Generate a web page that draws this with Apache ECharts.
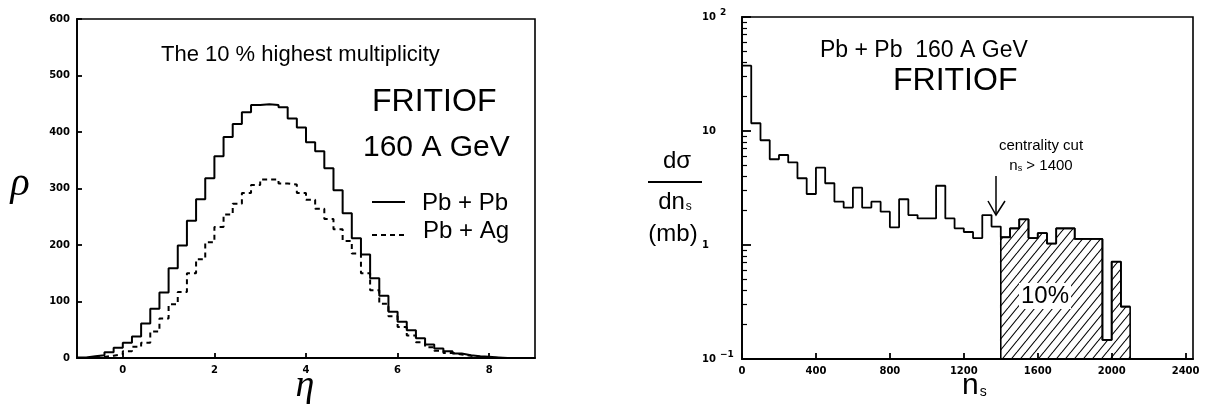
<!DOCTYPE html>
<html><head><meta charset="utf-8">
<script src="https://cdn.jsdelivr.net/npm/echarts@6/dist/echarts.min.js"></script>
<style>html,body{margin:0;padding:0;background:#fff}#c{width:1206px;height:405px}</style>
</head><body><div id="c"></div>
<script>
// ---------- Left panel: pseudorapidity density (bins of 0.2 in eta starting at -1) ----------
const etaFirstEdge = -1.0;
const etaBinWidth = 0.2;
const rhoPbPb = [1, 3, 5, 10, 18, 27, 38, 61, 87, 116, 159, 199, 243, 281, 318, 357, 391, 414, 435, 448,
  449, 448, 444, 424, 408, 382, 366, 336, 297, 256, 212, 183, 141, 110, 82, 64, 49, 35, 24, 17,
  12, 8, 5, 3, 2, 1, 0, 0, 0, 0];
const rhoPbAg = [0, 1, 2, 4, 7, 12, 20, 27, 47, 70, 95, 117, 150, 175, 205, 232, 254, 273, 292, 306,
  316, 316, 309, 307, 292, 280, 264, 246, 228, 207, 185, 150, 120, 96, 74, 55, 40, 28, 19, 13,
  9, 6, 4, 2, 1, 0, 0, 0, 0, 0];
const etaTicks = [0, 2, 4, 6, 8];

// ---------- Right panel: d sigma / d n_s (bins of 50 starting at 0) ----------
const nsFirstEdge = 0;
const nsBinWidth = 50;
const dsigma = [37.4, 11.7, 8.3, 5.65, 6.16, 5.3, 3.85, 2.8, 4.77, 3.48,
  2.40, 2.13, 3.18, 2.13, 2.40, 1.96, 1.43, 2.52, 1.83, 1.71,
  1.71, 3.31, 1.71, 1.40, 1.30, 1.15, 1.83, 1.45, 1.17, 1.40,
  1.68, 1.15, 1.27, 1.03, 1.40, 1.40, 1.13, 1.13, 1.13, 0.147,
  0.714, 0.288];
const nsCut = 1400;
const nsTicks = [0, 400, 800, 1200, 1600, 2000, 2400];
const logMin = 0.1, logMax = 100;
const logMinorTicks = [0.2,0.3,0.4,0.5,0.6,0.7,0.8,0.9,2,3,4,5,6,7,8,9,20,30,40,50,60,70,80,90];

function stepPoints(first, width, vals) {
  const pts = vals.map((v, i) => [first + i * width, v]);
  pts.push([first + vals.length * width, vals[vals.length - 1]]);
  return pts;
}

const cutIdx = Math.round((nsCut - nsFirstEdge) / nsBinWidth);
const nsEnd = nsFirstEdge + dsigma.length * nsBinWidth;
const hatchedPts = [[nsCut, logMin]].concat(
  stepPoints(nsCut, nsBinWidth, dsigma.slice(cutIdx)), [[nsEnd, logMin]]);

// hatch pattern
const tile = document.createElement('canvas');
tile.width = 9; tile.height = 11;
(function () {
  const g = tile.getContext('2d');
  g.strokeStyle = '#000'; g.lineWidth = 1.1;
  for (const dx of [-9, 0, 9]) { g.beginPath(); g.moveTo(dx, 11); g.lineTo(dx + 9, 0); g.stroke(); }
})();

const tickFont = { fontFamily: 'DejaVu Sans', fontWeight: 'bold', fontSize: 10, color: '#000' };
const plainNum = function (v) { return String(v); };
const SANS = '"Liberation Sans", Arial, sans-serif';
const blk = { color: '#000', width: 1.8 };

const chart = echarts.init(document.getElementById('c'), null, { renderer: 'canvas' });
chart.setOption({
  animation: false,
  backgroundColor: '#fff',
  grid: [
    { left: 77, top: 19, right: 671, bottom: 47, show: true, borderColor: '#000', borderWidth: 1.6, backgroundColor: 'transparent' },
    { left: 742, top: 17, right: 13, bottom: 46, show: true, borderColor: '#000', borderWidth: 1.6, backgroundColor: 'transparent' }
  ],
  xAxis: [
    { gridIndex: 0, type: 'value', min: -1, max: 9, position: 'bottom',
      axisLine: { show: true, onZero: false, lineStyle: blk },
      axisTick: { show: true, inside: true, length: 5, customValues: etaTicks, lineStyle: blk },
      axisLabel: Object.assign({ customValues: etaTicks, margin: 7, formatter: plainNum }, tickFont),
      splitLine: { show: false } },
    { gridIndex: 1, type: 'value', min: 0, max: 2440, position: 'bottom',
      axisLine: { show: true, onZero: false, lineStyle: blk },
      axisTick: { show: true, inside: true, length: 6, customValues: nsTicks, lineStyle: blk },
      axisLabel: Object.assign({ customValues: nsTicks, margin: 7, formatter: plainNum }, tickFont),
      splitLine: { show: false } }
  ],
  yAxis: [
    { gridIndex: 0, type: 'value', min: 0, max: 600, interval: 100, position: 'left',
      axisLine: { show: true, onZero: false, lineStyle: blk },
      axisTick: { show: true, inside: true, length: 5, lineStyle: blk },
      axisLabel: Object.assign({ margin: 7, formatter: plainNum }, tickFont),
      splitLine: { show: false } },
    { gridIndex: 1, type: 'log', logBase: 10, min: logMin, max: logMax, position: 'left',
      axisLine: { show: true, onZero: false, lineStyle: blk },
      axisTick: { show: true, inside: true, length: 9, lineStyle: blk },
      axisLabel: {
        margin: 40, align: 'left', color: '#000',
        formatter: function (v) {
          const e = Math.round(Math.log10(v));
          if (e === 0) return '{m|1}';
          if (e === 1) return '{m|10}';
          return '{m|10}{s|' + (e < 0 ? '\u2212' : '') + Math.abs(e) + '}';
        },
        rich: {
          m: { fontFamily: 'DejaVu Sans', fontWeight: 'bold', fontSize: 10, color: '#000' },
          s: { fontFamily: 'DejaVu Sans', fontWeight: 'bold', fontSize: 9, color: '#000', padding: [0, 0, 9, 4] }
        }
      },
      splitLine: { show: false } },
    { gridIndex: 1, type: 'log', logBase: 10, min: logMin, max: logMax, position: 'left', offset: 0,
      axisLine: { show: false, onZero: false },
      axisTick: { show: true, inside: true, length: 5, customValues: logMinorTicks, lineStyle: { color: '#000', width: 1.2 } },
      axisLabel: { show: false },
      splitLine: { show: false } }
  ],
  series: [
    { name: 'Pb + Pb', type: 'line', xAxisIndex: 0, yAxisIndex: 0, step: 'end', symbol: 'none',
      data: stepPoints(etaFirstEdge, etaBinWidth, rhoPbPb), lineStyle: { color: '#000', width: 2 }, z: 3 },
    { name: 'Pb + Ag', type: 'line', xAxisIndex: 0, yAxisIndex: 0, step: 'end', symbol: 'none',
      data: stepPoints(etaFirstEdge, etaBinWidth, rhoPbAg), lineStyle: { color: '#000', width: 2, type: [5, 4] }, z: 2 },
    { name: 'dsigma', type: 'line', xAxisIndex: 1, yAxisIndex: 1, step: 'end', symbol: 'none',
      data: stepPoints(nsFirstEdge, nsBinWidth, dsigma), lineStyle: { color: '#000', width: 1.8 }, z: 3 },
    { name: 'cut', type: 'line', xAxisIndex: 1, yAxisIndex: 1, step: 'end', symbol: 'none',
      data: hatchedPts, lineStyle: { color: '#000', width: 1.6 },
      areaStyle: { color: { image: tile, repeat: 'repeat' }, opacity: 1, origin: 'start' }, z: 2 }
  ],
  graphic: [
    // left panel annotations
    { type: 'text', x: 161, y: 55, z: 50, style: { text: 'The 10 % highest multiplicity', font: '22px ' + SANS, fill: '#000', textVerticalAlign: 'middle' } },
    { type: 'text', x: 372, y: 102, z: 50, style: { text: 'FRITIOF', font: '32px ' + SANS, fill: '#000', textVerticalAlign: 'middle' } },
    { type: 'text', x: 363, y: 148, z: 50, style: { text: '160 A GeV', font: '30px ' + SANS, fill: '#000', textVerticalAlign: 'middle' } },
    { type: 'line', z: 50, shape: { x1: 372, y1: 202, x2: 405, y2: 202 }, style: { stroke: '#000', lineWidth: 2 } },
    { type: 'text', x: 422, y: 203, z: 50, style: { text: 'Pb + Pb', font: '24px ' + SANS, fill: '#000', textVerticalAlign: 'middle' } },
    { type: 'line', z: 50, shape: { x1: 372, y1: 235, x2: 408, y2: 235 }, style: { stroke: '#000', lineWidth: 2, lineDash: [5, 4] } },
    { type: 'text', x: 423, y: 231, z: 50, style: { text: 'Pb + Ag', font: '24px ' + SANS, fill: '#000', textVerticalAlign: 'middle' } },
    { type: 'text', x: 20, y: 184, z: 50, style: { text: '\u03C1', font: 'italic 40px "Liberation Serif", serif', fill: '#000', textAlign: 'center', textVerticalAlign: 'middle' } },
    { type: 'text', x: 305, y: 386, z: 50, style: { text: '\u03B7', font: 'italic 38px "Liberation Serif", serif', fill: '#000', textAlign: 'center', textVerticalAlign: 'middle' } },
    // right panel annotations
    { type: 'text', x: 820, y: 51, z: 50, style: { text: 'Pb + Pb  160 A GeV', font: '23px ' + SANS, fill: '#000', textVerticalAlign: 'middle' } },
    { type: 'text', x: 893, y: 81, z: 50, style: { text: 'FRITIOF', font: '32px ' + SANS, fill: '#000', textVerticalAlign: 'middle' } },
    { type: 'text', x: 1041, y: 146, z: 50, style: { text: 'centrality cut', font: '15px ' + SANS, fill: '#000', textAlign: 'center', textVerticalAlign: 'middle' } },
    { type: 'text', x: 1041, y: 166, z: 50, style: { text: '{a|n}{b|s}{a| > 1400}', fill: '#000', textAlign: 'center', textVerticalAlign: 'middle',
        rich: { a: { font: '15px ' + SANS, fill: '#000' }, b: { font: '9px ' + SANS, fill: '#000', padding: [5, 0, 0, 0] } } } },
    { type: 'line', z: 50, shape: { x1: 996, y1: 176, x2: 996, y2: 215 }, style: { stroke: '#000', lineWidth: 1.5 } },
    { type: 'polyline', z: 50, shape: { points: [[988, 201], [996, 215], [1005, 201]] }, style: { stroke: '#000', lineWidth: 1.5, fill: null } },
    { type: 'text', x: 1045, y: 296, z: 50, style: { text: '10%', font: '24px ' + SANS, fill: '#000', textAlign: 'center', textVerticalAlign: 'middle', backgroundColor: '#fff', padding: [1, 2, 1, 2] } },
    { type: 'text', x: 677, y: 161, z: 50, style: { text: 'd\u03C3', font: '24px ' + SANS, fill: '#000', textAlign: 'center', textVerticalAlign: 'middle' } },
    { type: 'line', z: 50, shape: { x1: 648, y1: 182, x2: 702, y2: 182 }, style: { stroke: '#000', lineWidth: 1.8 } },
    { type: 'text', x: 675, y: 202, z: 50, style: { text: '{a|dn}{b|s}', fill: '#000', textAlign: 'center', textVerticalAlign: 'middle',
        rich: { a: { font: '24px ' + SANS, fill: '#000' }, b: { font: '12px ' + SANS, fill: '#000', padding: [10, 0, 0, 1] } } } },
    { type: 'text', x: 673, y: 234, z: 50, style: { text: '(mb)', font: '24px ' + SANS, fill: '#000', textAlign: 'center', textVerticalAlign: 'middle' } },
    { type: 'text', x: 962, y: 386, z: 50, style: { text: '{a|n}{b|s}', fill: '#000', textVerticalAlign: 'middle',
        rich: { a: { font: '30px ' + SANS, fill: '#000' }, b: { font: '14px ' + SANS, fill: '#000', padding: [12, 0, 0, 1] } } } }
  ]
});
</script></body></html>
